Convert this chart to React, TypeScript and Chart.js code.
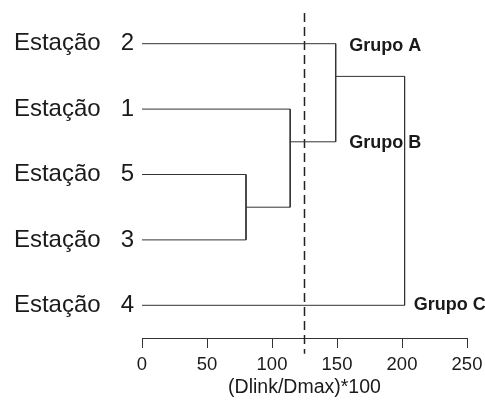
import React, { useEffect, useRef } from "react";
import { Chart, registerables } from "chart.js";

Chart.register(...registerables);

// Leaves, top to bottom (row index 0..4)
const leafLabels = ["Estação   2", "Estação   1", "Estação   5", "Estação   3", "Estação   4"];
const leafKeys = ["E2", "E1", "E5", "E3", "E4"];

// Merges (agglomeration steps)
const mergeKeys = ["M1", "M2", "M3", "M4"];
const mergeChildren: [string, string][] = [
  ["E5", "E3"],
  ["E1", "M1"],
  ["E2", "M2"],
  ["M3", "E4"],
];
const mergeHeights = [80, 114, 149, 202];
const mergeRows = [2.5, 1.5, 0.5, 2.25];

// Cut-off line
const cutoff = 125;
const cutoffRowRange = [-0.47, 4.74];

// Group labels
const groupLabels = ["Grupo A", "Grupo B", "Grupo C"];
const groupX = [159.5, 159.5, 209];
const groupRows = [0.03, 1.52, 4];

// Axis
const xTicks = [0, 50, 100, 150, 200, 250];
const xTitle = "(Dlink/Dmax)*100";

const LINE = "#333333";
const TEXT = "#1a1a1a";
const FONT = "'Liberation Sans', Arial, sans-serif";

function nodePos(key: string): { x: number; y: number } {
  const li = leafKeys.indexOf(key);
  if (li >= 0) return { x: 0, y: li };
  const mi = mergeKeys.indexOf(key);
  return { x: mergeHeights[mi], y: mergeRows[mi] };
}

export default function App() {
  const ref = useRef<HTMLCanvasElement | null>(null);

  useEffect(() => {
    if (!ref.current) return;

    const datasets: any[] = mergeChildren.map(([a, b], i) => {
      const pa = nodePos(a);
      const pb = nodePos(b);
      const h = mergeHeights[i];
      return {
        data: [
          { x: pa.x, y: pa.y },
          { x: h, y: pa.y },
          { x: h, y: pb.y },
          { x: pb.x, y: pb.y },
        ],
        showLine: true,
        borderColor: LINE,
        borderWidth: 1,
        pointRadius: 0,
        fill: false,
        tension: 0,
      };
    });

    datasets.push({
      data: [
        { x: cutoff, y: cutoffRowRange[0] },
        { x: cutoff, y: cutoffRowRange[1] },
      ],
      showLine: true,
      borderColor: "#222",
      borderWidth: 1.5,
      borderDash: [9, 5],
      pointRadius: 0,
      fill: false,
      clip: false,
    });

    const groupPlugin = {
      id: "groupLabels",
      afterDatasetsDraw(chart: any) {
        const { ctx, scales } = chart;
        ctx.save();
        ctx.font = `bold 18px ${FONT}`;
        ctx.fillStyle = TEXT;
        ctx.textAlign = "left";
        ctx.textBaseline = "middle";
        groupLabels.forEach((t, i) => {
          ctx.fillText(t, scales.x.getPixelForValue(groupX[i]), scales.y.getPixelForValue(groupRows[i]));
        });
        ctx.restore();
      },
    };

    const zeroPad = (scale: any) => {
      scale.paddingTop = 0;
      scale.paddingBottom = 0;
      scale.paddingLeft = 0;
      scale.paddingRight = 0;
    };

    const chart = new Chart(ref.current, {
      type: "scatter",
      data: { datasets },
      plugins: [groupPlugin],
      options: {
        animation: false,
        responsive: true,
        maintainAspectRatio: false,
        layout: { padding: { top: 11, right: 18, bottom: 0, left: 0 } },
        plugins: {
          legend: { display: false },
          tooltip: { enabled: false },
        },
        scales: {
          x: {
            type: "linear",
            min: 0,
            max: 250,
            afterBuildTicks: (scale: any) => {
              scale.ticks = xTicks.map((v) => ({ value: v }));
            },
            afterFit: (scale: any) => {
              scale.height = 63;
              zeroPad(scale);
            },
            border: { display: true, color: LINE, width: 1 },
            grid: {
              drawOnChartArea: false,
              drawTicks: true,
              tickLength: 10,
              color: LINE,
            },
            ticks: {
              color: TEXT,
              padding: 6,
              font: { family: FONT, size: 18.5 },
              maxRotation: 0,
              autoSkip: false,
            },
            title: {
              display: true,
              text: xTitle,
              color: TEXT,
              font: { family: FONT, size: 19.5 },
              padding: { top: 0, bottom: 2 },
            },
          },
          y: {
            type: "linear",
            reverse: true,
            min: -0.5,
            max: 4.5,
            afterBuildTicks: (scale: any) => {
              scale.ticks = leafLabels.map((_, i) => ({ value: i }));
            },
            afterFit: (scale: any) => {
              scale.width = 142;
              zeroPad(scale);
            },
            border: { display: false },
            grid: { display: false, drawTicks: false },
            ticks: {
              color: TEXT,
              padding: 8,
              font: { family: FONT, size: 24 },
              autoSkip: false,
              callback: (v: any) => leafLabels[Math.round(Number(v))] ?? "",
            },
          },
        },
      } as any,
    });

    return () => chart.destroy();
  }, []);

  return (
    <div style={{ position: "absolute", left: 0, top: 0, width: 485, height: 401, background: "#fff" }}>
      <canvas ref={ref} />
    </div>
  );
}
